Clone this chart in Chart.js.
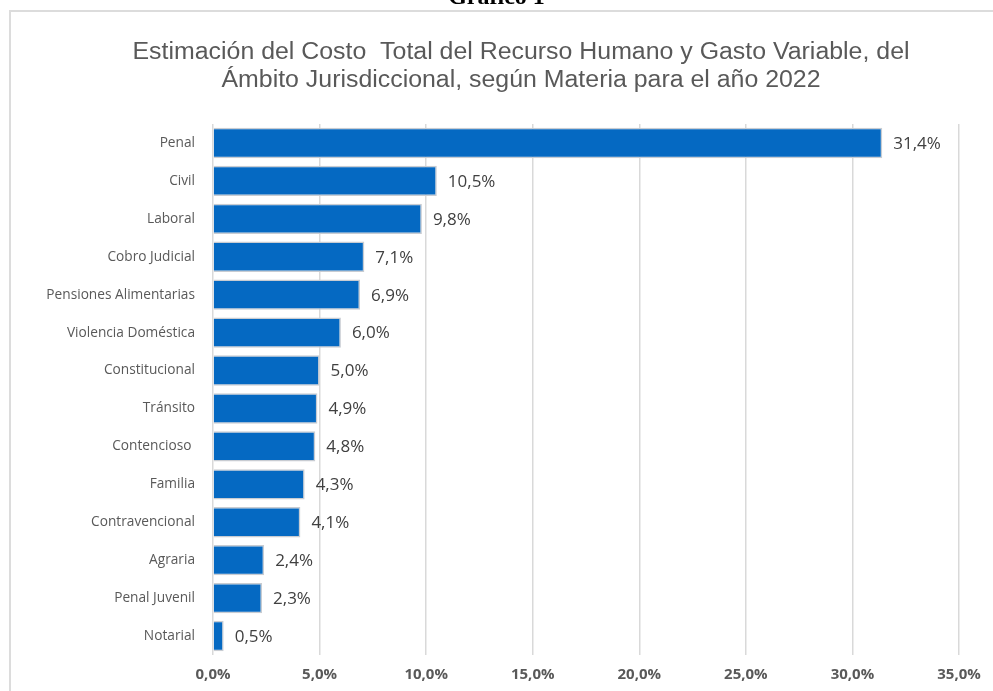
<!DOCTYPE html>
<html>
<head>
<meta charset="utf-8">
<script src="https://cdn.jsdelivr.net/npm/chart.js@4.4.0/dist/chart.umd.min.js"></script>
<style>
  html,body{margin:0;padding:0;background:#fff;width:993px;height:691px;overflow:hidden;}
  #frame{position:absolute;left:9px;top:10px;width:1200px;height:900px;border-left:2px solid #dcdcdc;border-top:2px solid #dcdcdc;}
  #cap{position:absolute;left:0;width:993px;top:-17px;line-height:24px;text-align:center;font:bold 24px "Liberation Serif","DejaVu Serif",serif;color:#000;z-index:5;}
  #wrap{position:absolute;left:0;top:0;width:993px;height:703px;}
</style>
</head>
<body>
<div id="frame"></div>
<div id="wrap"><canvas id="c" width="993" height="703"></canvas></div>
<div id="cap">Gráfico 1</div>
<script>
const categories = ["Penal","Civil","Laboral","Cobro Judicial","Pensiones Alimentarias","Violencia Doméstica","Constitucional","Tránsito","Contencioso ","Familia","Contravencional","Agraria","Penal Juvenil","Notarial"];
const values = [31.4,10.5,9.8,7.1,6.9,6.0,5.0,4.9,4.8,4.3,4.1,2.4,2.3,0.5];
const titleLines = ["Estimación del Costo  Total del Recurso Humano y Gasto Variable, del","Ámbito Jurisdiccional, según Materia para el año 2022"];

const fmt = v => v.toFixed(1).replace('.', ',') + '%';

const titlePlugin = {
  id:'customTitle',
  afterDraw(chart){
    const ctx = chart.ctx;
    ctx.save();
    ctx.fillStyle = '#595959';
    ctx.font = '23px "Liberation Sans",Arial,sans-serif';
    ctx.textAlign = 'center';
    ctx.textBaseline = 'middle';
    const w = ctx.measureText(titleLines[0]).width;
    const sx = 777 / w;
    ctx.translate(521, 0);
    ctx.scale(sx, 1);
    ctx.fillText(titleLines[0], 0, 53);
    ctx.fillText(titleLines[1], 0, 81);
    ctx.restore();
  }
};
const labelPlugin = {
  id:'valueLabels',
  afterDatasetsDraw(chart){
    const ctx = chart.ctx;
    const meta = chart.getDatasetMeta(0);
    ctx.save();
    ctx.fillStyle = '#404040';
    ctx.font = '17px "Open Sans", sans-serif';
    ctx.textAlign = 'left';
    ctx.textBaseline = 'middle';
    meta.data.forEach((bar, i) => {
      ctx.fillText(fmt(values[i]), bar.x + 11, bar.y + 1);
    });
    ctx.restore();
  }
};

new Chart(document.getElementById('c'), {
  type:'bar',
  data:{
    labels:categories,
    datasets:[{
      data:values,
      backgroundColor:'#0569c2',
      borderColor:'#c8ccd2',
      borderWidth:1.5,
      categoryPercentage:0.8,
      barPercentage:1.0
    }]
  },
  options:{
    indexAxis:'y',
    responsive:false,
    animation:false,
    layout:{padding:{top:124,right:34,bottom:8,left:0}},
    plugins:{legend:{display:false},title:{display:false},tooltip:{enabled:false}},
    scales:{
      x:{
        min:0,max:35,
        ticks:{stepSize:5,callback:v=>fmt(v),color:'#595959',font:{family:'"Open Sans", sans-serif',size:15,weight:'bold'},padding:11},
        grid:{color:'#d9d9d9',lineWidth:1.5,drawTicks:false},
        border:{display:false}
      },
      y:{
        ticks:{color:'#595959',font:{family:'"Open Sans", sans-serif',size:13.7},padding:10},
        grid:{display:false},
        border:{display:false},
        afterFit(scale){scale.width = 213;}
      }
    }
  },
  plugins:[titlePlugin,labelPlugin]
});
</script>
</body>
</html>
